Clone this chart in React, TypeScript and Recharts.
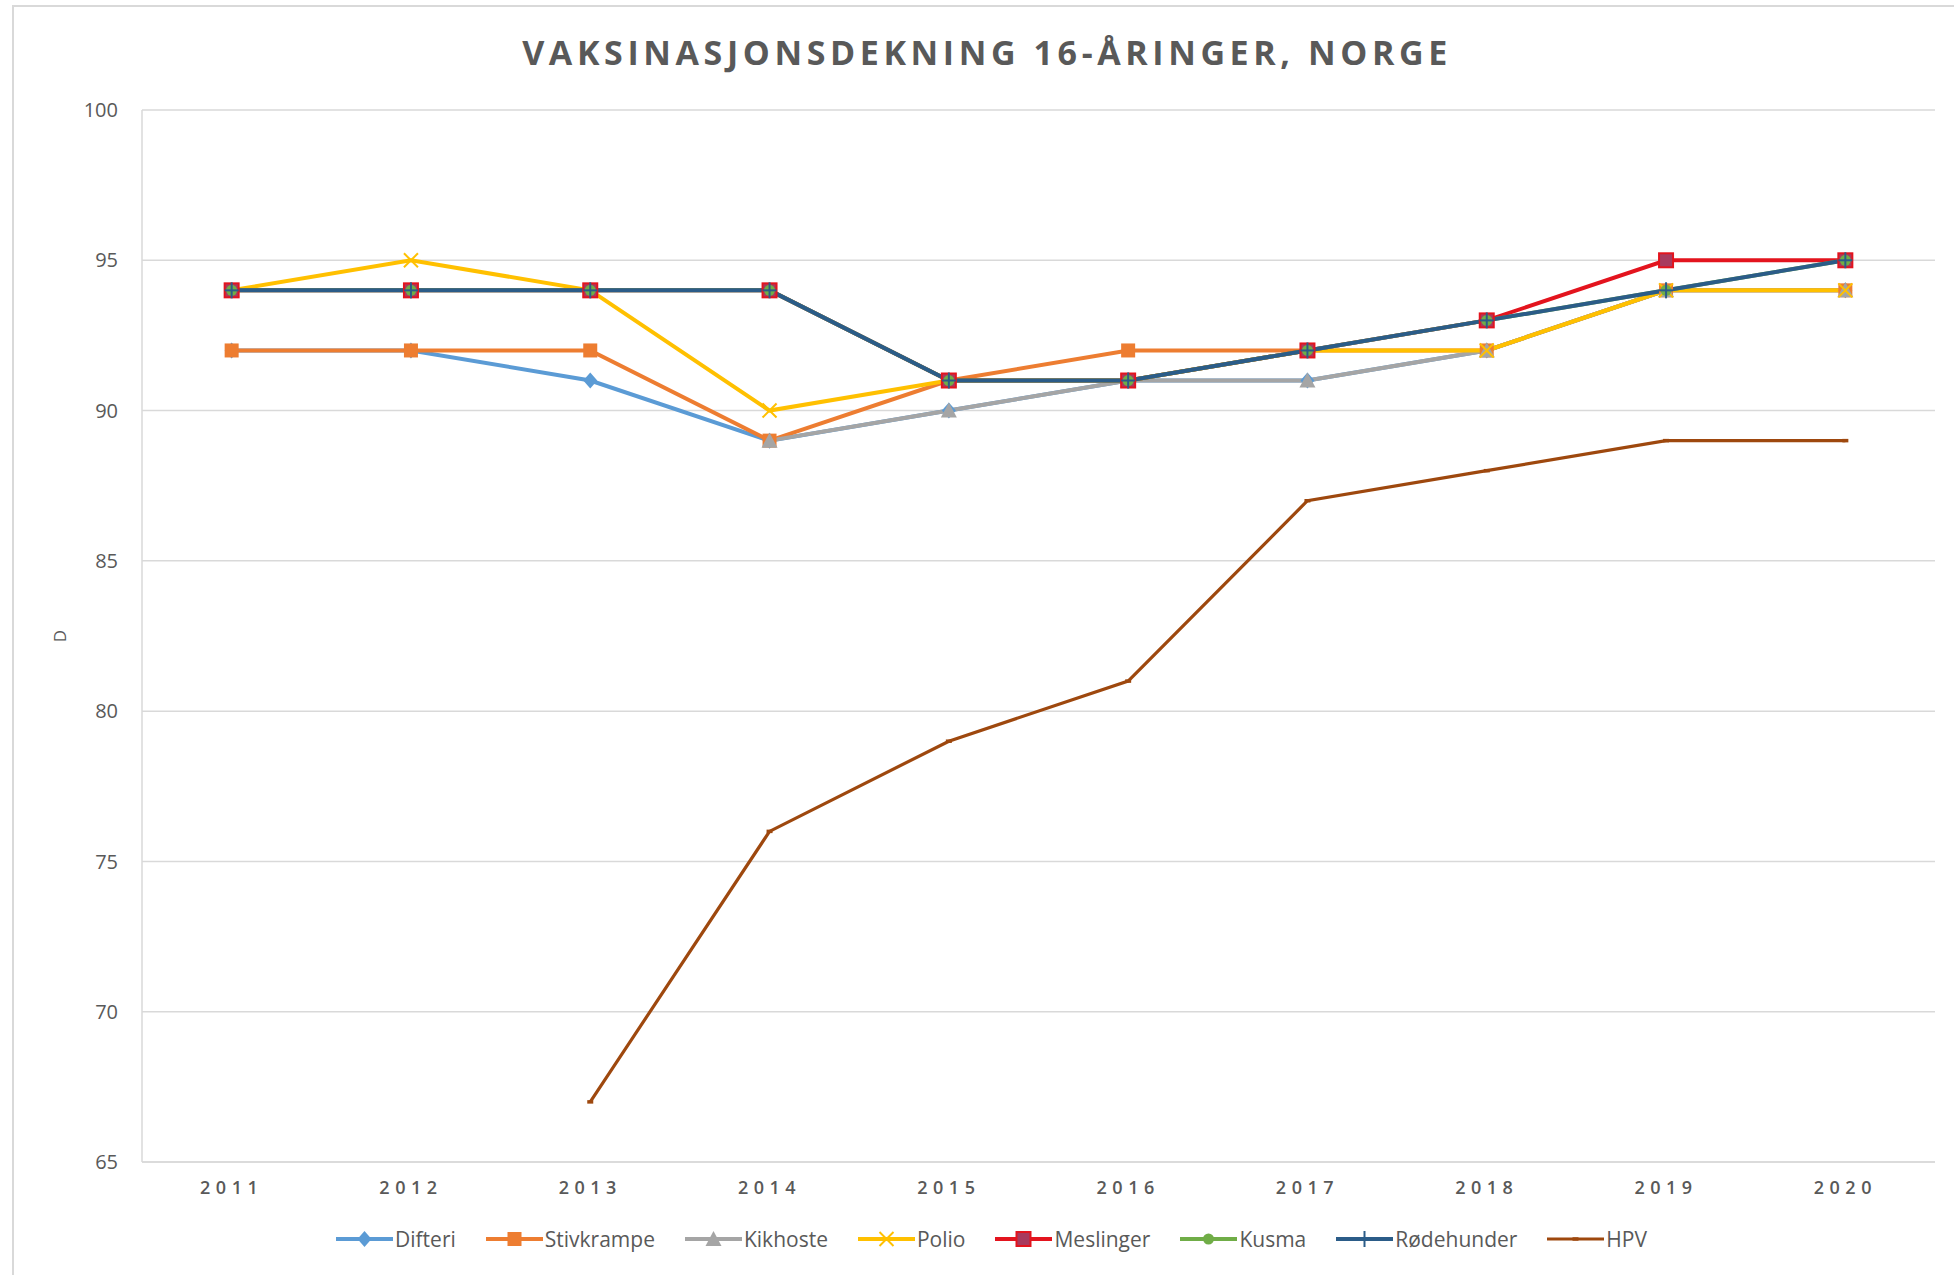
import React from 'react';
import { LineChart, Line, XAxis, YAxis, CartesianGrid } from 'recharts';

const years = ['2011', '2012', '2013', '2014', '2015', '2016', '2017', '2018', '2019', '2020'];
const difteri = [92, 92, 91, 89, 90, 91, 91, 92, 94, 94];
const stivkrampe = [92, 92, 92, 89, 91, 92, 92, 92, 94, 94];
const kikhoste = [null, null, null, 89, 90, 91, 91, 92, 94, 94];
const polio = [94, 95, 94, 90, 91, 91, 92, 92, 94, 94];
const meslinger = [94, 94, 94, 94, 91, 91, 92, 93, 95, 95];
const kusma = [94, 94, 94, 94, 91, 91, 92, 93, 94, 95];
const rodehunder = [94, 94, 94, 94, 91, 91, 92, 93, 94, 95];
const hpv = [null, null, 67, 76, 79, 81, 87, 88, 89, 89];
const yTicks = [65, 70, 75, 80, 85, 90, 95, 100];

type Marker = 'diamond' | 'square' | 'triangle' | 'x' | 'redsquare' | 'circle' | 'plus' | 'dash';

const seriesDefs: { key: string; name: string; color: string; marker: Marker; width: number; values: (number | null)[] }[] = [
  { key: 'difteri', name: 'Difteri', color: '#5B9BD5', marker: 'diamond', width: 4, values: difteri },
  { key: 'stivkrampe', name: 'Stivkrampe', color: '#ED7D31', marker: 'square', width: 4, values: stivkrampe },
  { key: 'kikhoste', name: 'Kikhoste', color: '#A5A5A5', marker: 'triangle', width: 4, values: kikhoste },
  { key: 'polio', name: 'Polio', color: '#FFC000', marker: 'x', width: 4, values: polio },
  { key: 'meslinger', name: 'Meslinger', color: '#E3141E', marker: 'redsquare', width: 4, values: meslinger },
  { key: 'kusma', name: 'Kusma', color: '#70AD47', marker: 'circle', width: 4, values: kusma },
  { key: 'rodehunder', name: 'Rødehunder', color: '#2B5C88', marker: 'plus', width: 4, values: rodehunder },
  { key: 'hpv', name: 'HPV', color: '#9E480E', marker: 'dash', width: 3.2, values: hpv },
];

const data = years.map((y, i) => {
  const row: Record<string, any> = { year: y };
  seriesDefs.forEach((s) => {
    row[s.key] = s.values[i];
  });
  return row;
});

function drawMarker(m: Marker, color: string, cx: number, cy: number, key?: string) {
  const s = 7;
  switch (m) {
    case 'diamond':
      return <polygon key={key} points={`${cx},${cy - 8} ${cx + 7},${cy} ${cx},${cy + 8} ${cx - 7},${cy}`} fill={color} />;
    case 'square':
      return <rect key={key} x={cx - s} y={cy - s} width={2 * s} height={2 * s} fill={color} />;
    case 'triangle':
      return <polygon key={key} points={`${cx},${cy - 8} ${cx + 8},${cy + 7} ${cx - 8},${cy + 7}`} fill={color} />;
    case 'x':
      return (
        <g key={key}>
          <line x1={cx - 7} y1={cy - 7} x2={cx + 7} y2={cy + 7} stroke={color} strokeWidth={2} />
          <line x1={cx + 7} y1={cy - 7} x2={cx - 7} y2={cy + 7} stroke={color} strokeWidth={2} />
        </g>
      );
    case 'redsquare':
      return <rect key={key} x={cx - 7} y={cy - 7} width={14} height={14} fill="#A83A5E" stroke={color} strokeWidth={2} />;
    case 'circle':
      return <circle key={key} cx={cx} cy={cy} r={5.5} fill={color} />;
    case 'plus':
      return (
        <g key={key}>
          <line x1={cx - 7} y1={cy} x2={cx + 7} y2={cy} stroke={color} strokeWidth={2} />
          <line x1={cx} y1={cy - 8} x2={cx} y2={cy + 8} stroke={color} strokeWidth={2} />
        </g>
      );
    case 'dash':
      return <line key={key} x1={cx - 3} y1={cy} x2={cx + 3} y2={cy} stroke={color} strokeWidth={3.5} />;
  }
  return null;
}

const gray = '#595959';
const font = '"Open Sans", sans-serif';

export default function App() {
  return (
    <div style={{ position: 'absolute', left: 0, top: 0, width: 1954, height: 1275, overflow: 'hidden', background: '#fff', fontFamily: font }}>
      <div style={{ position: 'absolute', left: 12, top: 5, width: 2100, height: 1400, border: '2px solid #D9D9D9', boxSizing: 'border-box' }} />
      <div
        style={{
          position: 'absolute',
          left: 0,
          top: 35,
          width: 1974,
          textAlign: 'center',
          fontSize: 34,
          lineHeight: '34px',
          fontWeight: 700,
          letterSpacing: 4.6,
          color: gray,
        }}
      >
        VAKSINASJONSDEKNING 16-ÅRINGER, NORGE
      </div>
      <div
        style={{
          position: 'absolute',
          left: 59,
          top: 636,
          transform: 'translate(-50%, -50%) rotate(-90deg)',
          fontSize: 17,
          color: gray,
        }}
      >
        D
      </div>
      <div style={{ position: 'absolute', left: 0, top: 0 }}>
        <LineChart width={1954} height={1275} data={data} margin={{ top: 110, right: 19, bottom: 83, left: 0 }}>
          <CartesianGrid horizontal vertical={false} stroke="#D9D9D9" strokeWidth={1.5} />
          <XAxis
            dataKey="year"
            height={30}
            padding={{ left: 89.65, right: 89.65 }}
            axisLine={{ stroke: '#D9D9D9', strokeWidth: 1.5 }}
            tickLine={false}
            tickSize={0}
            tickMargin={19}
            tick={{ fill: gray, fontSize: 18, letterSpacing: 5.5, fontFamily: font, fontWeight: 600 }}
            interval={0}
          />
          <YAxis
            width={142}
            domain={[65, 100]}
            ticks={yTicks}
            type="number"
            interval={0}
            axisLine={{ stroke: '#D9D9D9', strokeWidth: 1.5 }}
            tickLine={false}
            tickSize={0}
            tickMargin={24}
            tick={{ fill: gray, fontSize: 20, fontFamily: font }}
          />
          {seriesDefs.map((s) => (
            <Line
              key={s.key}
              dataKey={s.key}
              name={s.name}
              stroke={s.color}
              strokeWidth={s.width}
              type="linear"
              isAnimationActive={false}
              connectNulls={false}
              activeDot={false}
              dot={(p: any) => {
                const k = `${s.key}-${p.index}`;
                if (p.cx == null || p.cy == null || p.value == null) return <g key={k} />;
                return drawMarker(s.marker, s.color, p.cx, p.cy, k);
              }}
            />
          ))}
        </LineChart>
      </div>
      <div
        style={{
          position: 'absolute',
          left: 336,
          top: 1239,
          transform: 'translateY(-50%)',
          display: 'flex',
          alignItems: 'center',
          fontSize: 21,
          color: gray,
          whiteSpace: 'nowrap',
        }}
      >
        {seriesDefs.map((s) => (
          <div key={s.key} style={{ display: 'flex', alignItems: 'center', marginRight: 30 }}>
            <svg width={57} height={20} style={{ display: 'block' }}>
              <line x1={0} y1={10} x2={57} y2={10} stroke={s.color} strokeWidth={s.width} />
              {drawMarker(s.marker, s.color, 28.5, 10)}
            </svg>
            <span style={{ marginLeft: 2 }}>{s.name}</span>
          </div>
        ))}
      </div>
    </div>
  );
}
